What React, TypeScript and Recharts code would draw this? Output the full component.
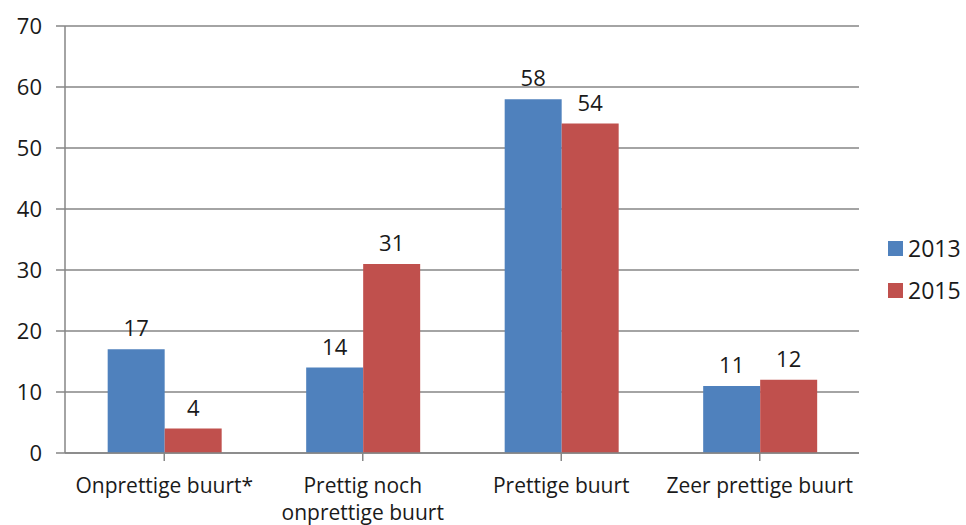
import React from 'react';
import {
  BarChart, Bar, XAxis, YAxis, CartesianGrid, LabelList,
} from 'recharts';

const CATEGORIES = ['Onprettige buurt*', 'Prettig noch onprettige buurt', 'Prettige buurt', 'Zeer prettige buurt'];
const VALUES_2013 = [17, 14, 58, 11];
const VALUES_2015 = [4, 31, 54, 12];
const Y_TICKS = [0, 10, 20, 30, 40, 50, 60, 70];
const SERIES = [
  { key: 'y2013', name: '2013', color: '#4F81BD' },
  { key: 'y2015', name: '2015', color: '#C0504D' },
];

const data = CATEGORIES.map((name, i) => ({
  name,
  y2013: VALUES_2013[i],
  y2015: VALUES_2015[i],
}));

const FONT = '"Open Sans", Lato, sans-serif';
const GRID = '#868686';
const INK = '#1a1a1a';

// long labels wrap in two lines, like the original
function CategoryTick(props: { x?: number; y?: number; payload?: { value: string } }) {
  const { x = 0, y = 0, payload } = props;
  const label = payload?.value ?? '';
  const lines = label === 'Prettig noch onprettige buurt'
    ? ['Prettig noch', 'onprettige buurt']
    : [label];
  return (
    <g transform={`translate(${x},${y})`}>
      {lines.map((l, i) => (
        <text
          key={i}
          x={0}
          y={i * 27}
          dy={30}
          textAnchor="middle"
          fill={INK}
          fontSize={21}
          fontFamily={FONT}
        >
          {l}
        </text>
      ))}
    </g>
  );
}

export default function App() {
  return (
    <div style={{ position: 'absolute', left: 0, top: 0, width: 966, height: 525, background: '#fff' }}>
      <BarChart
        width={966}
        height={525}
        data={data}
        margin={{ top: 26, right: 107, bottom: 0, left: 0 }}
        barCategoryGap="21.5%"
        barGap={0}
      >
        <CartesianGrid vertical={false} stroke={GRID} strokeWidth={1.5} />
        <XAxis
          dataKey="name"
          interval={0}
          height={72}
          stroke={GRID}
          strokeWidth={1.5}
          tickSize={8}
          tick={<CategoryTick />}
        />
        <YAxis
          width={65}
          domain={[0, 70]}
          ticks={Y_TICKS}
          interval={0}
          stroke={GRID}
          strokeWidth={1.5}
          tickSize={9}
          tickMargin={14}
          tick={{ fill: INK, fontSize: 22, fontFamily: FONT }}
        />
        {SERIES.map((s) => (
          <Bar key={s.key} dataKey={s.key} name={s.name} fill={s.color} isAnimationActive={false}>
            <LabelList
              dataKey={s.key}
              position="top"
              offset={13}
              fill={INK}
              fontSize={22}
              fontFamily={FONT}
            />
          </Bar>
        ))}
      </BarChart>

      {/* legend at the right, vertically centred */}
      <div style={{ position: 'absolute', left: 888, top: 227, fontFamily: FONT, fontSize: 23, color: INK }}>
        {SERIES.map((s) => (
          <div key={s.key} style={{ display: 'flex', alignItems: 'center', height: 42 }}>
            <span style={{ display: 'inline-block', width: 15, height: 15, background: s.color, marginRight: 5 }} />
            <span>{s.name}</span>
          </div>
        ))}
      </div>
    </div>
  );
}
